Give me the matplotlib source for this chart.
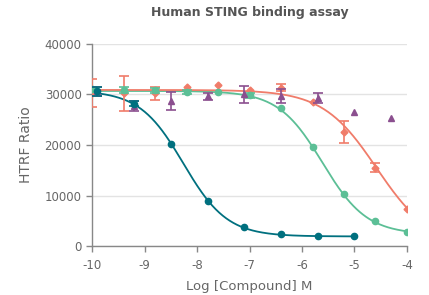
import numpy as np
import matplotlib
matplotlib.use("Agg")
import matplotlib.pyplot as plt

# log concentrations (two dilution series)
x_5fold = [-9.9, -9.2, -8.5, -7.8, -7.1, -6.4, -5.7, -5.0, -4.3]
x_4fold = [-10.0, -9.4, -8.8, -8.2, -7.6, -7.0, -6.4, -5.8, -5.2, -4.6, -4.0]

# teal compound
teal_x = x_5fold[:8]
teal_y = [30600, 28200, 20200, 9000, 3800, 2400, 2000, 1900]
teal_err = [900, 500, 0, 0, 0, 0, 0, 0]

# green compound
green_x = x_4fold
green_y = [31000, 30800, 30800, 30400, 30400, 29800, 27400, 19600, 10300, 5000, 2800]
green_err = [500, 600, 500, 400, 0, 500, 0, 0, 0, 0, 0]

# orange compound
orange_x = x_4fold
orange_y = [30300, 30200, 30200, 31400, 31800, 30800, 31300, 28600, 22600, 15500, 7300]
orange_err = [2700, 3400, 1200, 0, 0, 0, 700, 0, 2200, 900, 0]

# purple compound (no fit)
purple_x = x_5fold
purple_y = [30600, 27800, 28700, 29600, 30000, 29700, 29300, 26600, 25400]
purple_err = [900, 1000, 1700, 700, 1700, 1400, 1000, 0, 0]

# 4PL fit parameters: top, bottom, logIC50, hill, x-range
teal_fit = (30800, 1900, -8.26, 1.04, -10, -5)
green_fit = (30700, 2300, -5.61, 1.03, -10, -4)
orange_fit = (30900, 0, -4.58, 0.85, -10, -4)

c_teal = "#00707f"
c_green = "#5cbf96"
c_orange = "#f07c6a"
c_purple = "#8b4f8f"
c_text = "#666666"


def curve(p):
    top, bottom, c, h, x0, x1 = p
    xs = np.linspace(x0, x1, 300)
    return xs, bottom + (top - bottom) / (1 + 10 ** (h * (xs - c)))


def points(ax, x, y, err, col, marker, ms, z):
    x, y, err = np.array(x), np.array(y), np.array(err)
    m = err > 0
    ax.errorbar(x[m], y[m], yerr=err[m], color=col, ls="none", capsize=3.5,
                elinewidth=1.2, capthick=1.2, zorder=z)
    ax.plot(x, y, ls="none", marker=marker, ms=ms, color=col, zorder=z + 0.5)


fig = plt.figure(figsize=(4.29, 2.95), dpi=100)
ax = fig.add_axes([0.2145, 0.166, 0.7342, 0.685])

for p, col, z in [(green_fit, c_green, 2), (orange_fit, c_orange, 3), (teal_fit, c_teal, 2)]:
    xs, ys = curve(p)
    ax.plot(xs, ys, color=col, lw=1.3, zorder=z)

points(ax, orange_x, orange_y, orange_err, c_orange, "D", 3.5, 4)
points(ax, green_x, green_y, green_err, c_green, "o", 4.5, 5)
points(ax, purple_x, purple_y, purple_err, c_purple, "^", 4.5, 6)
points(ax, teal_x, teal_y, teal_err, c_teal, "o", 4.5, 7)

ax.set_xlim(-10, -4)
ax.set_ylim(0, 40000)
ax.set_xticks(range(-10, -3))
ax.set_yticks([0, 10000, 20000, 30000, 40000])
ax.set_xticklabels([str(v) for v in range(-10, -3)])
ax.grid(axis="y", color="#e3e3e3", lw=1.0, zorder=0)
ax.set_axisbelow(True)
for s in ["top", "right"]:
    ax.spines[s].set_visible(False)
for s in ["left", "bottom"]:
    ax.spines[s].set_color("#888888")
    ax.spines[s].set_linewidth(1.0)
ax.tick_params(colors="#888888", labelcolor=c_text, labelsize=8.5, length=4, width=1.0)
ax.tick_params(axis="x", pad=5)

ax.set_ylabel("HTRF Ratio", color=c_text, fontsize=10, labelpad=8)
ax.set_xlabel("Log [Compound] M", color=c_text, fontsize=9.5, labelpad=6)
ax.set_title("Human STING binding assay", color="#555555", fontsize=9, fontweight="bold", pad=20)

fig.savefig("out.png", dpi=100)
